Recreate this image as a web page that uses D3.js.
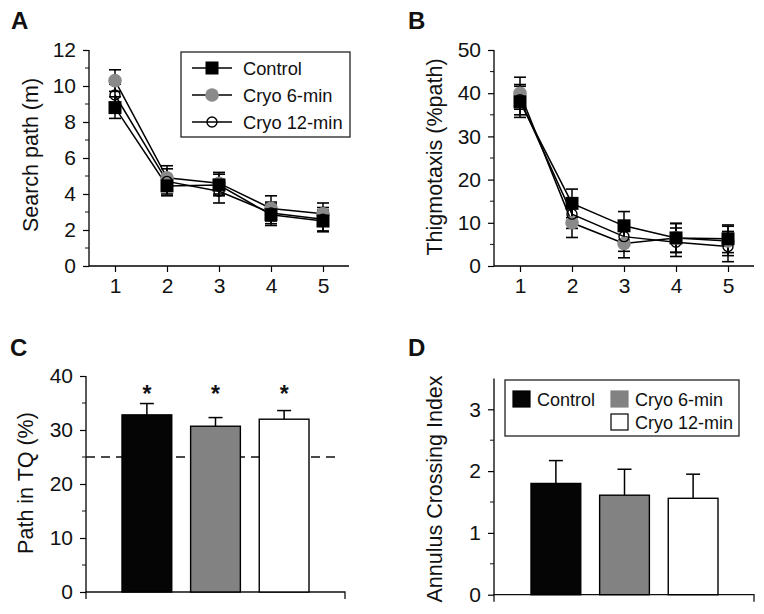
<!DOCTYPE html>
<html><head><meta charset="utf-8">
<script src="https://cdn.jsdelivr.net/npm/d3@7"></script>
<style>body{margin:0;background:#fff}svg{display:block}text{font-family:"Liberation Sans",Arial,Helvetica,sans-serif;fill:#111}</style>
</head><body>
<script>
// ---- Data ----
const days = [1, 2, 3, 4, 5];
const groups = ["Control", "Cryo 6-min", "Cryo 12-min"];
const groupColors = ["#050505", "#828282", "#ffffff"];

const searchControl = [8.8, 4.45, 4.5, 2.85, 2.5];
const searchControlErr = [0.6, 0.55, 0.6, 0.6, 0.6];
const searchCryo6 = [10.3, 4.9, 4.6, 3.2, 2.9];
const searchCryo6Err = [0.6, 0.67, 0.6, 0.7, 0.6];
const searchCryo12 = [9.5, 4.7, 4.15, 2.95, 2.6];
const searchCryo12Err = [0.6, 0.7, 0.65, 0.6, 0.65];

const thigControl = [38, 14.5, 9.3, 6.5, 6.3];
const thigControlErr = [3.6, 3.3, 3.3, 3.3, 3.2];
const thigCryo6 = [40, 10, 5.2, 6.5, 5.8];
const thigCryo6Err = [3.7, 3.4, 3.3, 3.4, 3.4];
const thigCryo12 = [38.5, 12, 6.8, 5.5, 4.5];
const thigCryo12Err = [3.5, 3.3, 3.4, 3.3, 3.5];

const tqValues = [32.8, 30.7, 32.0];
const tqErr = [2.1, 1.6, 1.6];
const tqChance = 25;
const tqStarLevel = 37.5;

const annulusValues = [1.80, 1.61, 1.56];
const annulusErr = [0.37, 0.42, 0.39];

const ticksA = [0, 2, 4, 6, 8, 10, 12];
const ticksB = [0, 10, 20, 30, 40, 50];
const ticksC = [0, 10, 20, 30, 40];
const ticksD = [0, 1, 2, 3];

// ---- Drawing ----
const svg = d3.select("body").append("svg").attr("width", 764).attr("height", 614);
const TICK_FS = 21, TITLE_FS = 21.5, LEG_FS = 18.3;

function panelLetter(t, x, y) {
  svg.append("text").attr("x", x).attr("y", y).text(t)
    .attr("font-size", 24).attr("font-weight", "bold").attr("fill", "#000");
}
function yAxis(g, y, x0, ticks, minorTicks) {
  const ax = g.append("g").attr("transform", `translate(${x0},0)`)
    .call(d3.axisLeft(y).tickValues(ticks).tickSize(6).tickPadding(7).tickFormat(d3.format("d")));
  ax.select(".domain").attr("d", `M0,${y.range()[0]}V${y.range()[1]}`).attr("stroke-width", 1.3);
  ax.selectAll(".tick line").attr("stroke-width", 1.2);
  ax.selectAll("text").attr("font-size", TICK_FS).attr("fill", "#111");
  g.append("g").selectAll("line").data(minorTicks).join("line")
    .attr("x1", x0 - 4).attr("x2", x0).attr("y1", d => y(d)).attr("y2", d => y(d))
    .attr("stroke", "#111").attr("stroke-width", 1);
}
function yTitle(t, x, y) {
  svg.append("text").attr("transform", `translate(${x},${y}) rotate(-90)`)
    .attr("text-anchor", "middle").attr("font-size", TITLE_FS).text(t);
}

function drawMarker(g, k, cx, cy) {
  if (k === 0) {
    g.append("rect").attr("x", cx - 6.5).attr("y", cy - 6.5).attr("width", 13).attr("height", 13).attr("fill", "#000");
  } else if (k === 1) {
    g.append("circle").attr("cx", cx).attr("cy", cy).attr("r", 6.8).attr("fill", "#8a8a8a");
  } else {
    g.append("circle").attr("cx", cx).attr("cy", cy).attr("r", 5).attr("fill", "none").attr("stroke", "#000").attr("stroke-width", 1.4);
  }
}

// Line panels
function linePanel(opts) {
  const g = svg.append("g");
  const x = d3.scaleLinear().domain([0.5, 5.5]).range([opts.x0, opts.x1]);
  const y = d3.scaleLinear().domain(opts.domain).range([opts.y0, opts.y1]);
  const xa = g.append("g").attr("transform", `translate(0,${opts.y0})`)
    .call(d3.axisBottom(x).tickValues(days).tickSize(6).tickPadding(6).tickFormat(d3.format("d")));
  xa.select(".domain").attr("d", `M${opts.x0},0H${opts.x1}`).attr("stroke-width", 1.3);
  xa.selectAll(".tick line").attr("stroke-width", 1.2);
  xa.selectAll("text").attr("font-size", TICK_FS).attr("fill", "#111");
  yAxis(g, y, opts.x0, opts.ticks, opts.minor);

  const series = opts.series;
  const line = d3.line().x((d, i) => x(days[i])).y(d => y(d));
  series.forEach(s => {
    s.vals.forEach((v, i) => {
      const cx = x(days[i]);
      const lo = y(v - s.err[i]), hi = y(v + s.err[i]);
      g.append("line").attr("x1", cx).attr("x2", cx).attr("y1", lo).attr("y2", hi).attr("stroke", "#000").attr("stroke-width", 1.5);
      [lo, hi].forEach(yy => g.append("line").attr("x1", cx - 6).attr("x2", cx + 6).attr("y1", yy).attr("y2", yy).attr("stroke", "#000").attr("stroke-width", 1.6));
    });
  });
  series.forEach(s => {
    g.append("path").datum(s.vals).attr("d", line).attr("fill", "none").attr("stroke", "#000").attr("stroke-width", 1.5);
  });
  [1, 0, 2].forEach(k => {
    series[k].vals.forEach((v, i) => drawMarker(g, k, x(days[i]), y(v)));
  });
}

// Panel A
panelLetter("A", 11, 29);
linePanel({
  x0: 89, x1: 349, y0: 266, y1: 50, domain: [0, 12], ticks: ticksA, minor: [1, 3, 5, 7, 9, 11],
  series: [
    {vals: searchControl, err: searchControlErr},
    {vals: searchCryo6, err: searchCryo6Err},
    {vals: searchCryo12, err: searchCryo12Err}
  ]
});
yTitle("Search path (m)", 38, 155);
const legA = svg.append("g");
legA.append("rect").attr("x", 181).attr("y", 52).attr("width", 169).attr("height", 85)
  .attr("fill", "#fff").attr("stroke", "#222").attr("stroke-width", 1.3);
groups.forEach((name, k) => {
  const yy = 68 + k * 27;
  legA.append("line").attr("x1", 192).attr("x2", 232).attr("y1", yy).attr("y2", yy).attr("stroke", "#000").attr("stroke-width", 1.5);
  drawMarker(legA, k, 212, yy);
  legA.append("text").attr("x", 243).attr("y", yy + 6.5).attr("font-size", LEG_FS).text(name);
});

// Panel B
panelLetter("B", 408, 29);
linePanel({
  x0: 494, x1: 754, y0: 266, y1: 50, domain: [0, 50], ticks: ticksB, minor: [5, 15, 25, 35, 45],
  series: [
    {vals: thigControl, err: thigControlErr},
    {vals: thigCryo6, err: thigCryo6Err},
    {vals: thigCryo12, err: thigCryo12Err}
  ]
});
yTitle("Thigmotaxis (%path)", 442, 157);

// Bar panels
function barPanel(opts) {
  const g = svg.append("g");
  const x = d3.scaleBand().domain(groups).range([opts.bx0, opts.bx1]).paddingInner(0.275).paddingOuter(0);
  const y = d3.scaleLinear().domain(opts.domain).range([opts.y0, opts.y1]);
  g.append("path").attr("d", `M${opts.x0},${opts.y0 + 7}V${opts.y0}H${opts.x1}V${opts.y0 + 7}`)
    .attr("fill", "none").attr("stroke", "#111").attr("stroke-width", 1.3);
  yAxis(g, y, opts.x0, opts.ticks, opts.minor);
  if (opts.chance !== undefined) {
    g.append("line").attr("x1", opts.x0).attr("x2", opts.x1 - 10).attr("y1", y(opts.chance)).attr("y2", y(opts.chance))
      .attr("stroke", "#111").attr("stroke-width", 1.3).attr("stroke-dasharray", "9,6");
  }
  opts.vals.forEach((v, i) => {
    const bx = x(groups[i]), bw = x.bandwidth(), cx = bx + bw / 2;
    const top = y(v + opts.err[i]);
    g.append("line").attr("x1", cx).attr("x2", cx).attr("y1", y(v)).attr("y2", top).attr("stroke", "#000").attr("stroke-width", 1.5);
    g.append("line").attr("x1", cx - 7).attr("x2", cx + 7).attr("y1", top).attr("y2", top).attr("stroke", "#000").attr("stroke-width", 1.5);
    g.append("rect").attr("x", bx).attr("y", y(v)).attr("width", bw).attr("height", y(0) - y(v))
      .attr("fill", groupColors[i]).attr("stroke", "#000").attr("stroke-width", 1.4);
    if (opts.starLevel !== undefined) {
      g.append("text").attr("x", cx).attr("y", y(opts.starLevel) + 12).attr("text-anchor", "middle")
        .attr("font-size", 23).attr("font-weight", "bold").attr("fill", "#222").text("*");
    }
  });
}

// Panel C
panelLetter("C", 10, 356);
barPanel({
  x0: 86, x1: 345, bx0: 122, bx1: 309, y0: 592, y1: 376, domain: [0, 40], ticks: ticksC, minor: [5, 15, 25, 35],
  vals: tqValues, err: tqErr, chance: tqChance, starLevel: tqStarLevel
});
yTitle("Path in TQ (%)", 33, 483);

// Panel D
panelLetter("D", 408, 356);
barPanel({
  x0: 494, x1: 754, bx0: 531, bx1: 718, y0: 594.7, y1: 378.4, domain: [0, 3.5], ticks: ticksD, minor: [0.5, 1.5, 2.5],
  vals: annulusValues, err: annulusErr
});
yTitle("Annulus Crossing Index", 442, 489);
const legD = svg.append("g");
legD.append("rect").attr("x", 505).attr("y", 380).attr("width", 234).attr("height", 56)
  .attr("fill", "#fff").attr("stroke", "#222").attr("stroke-width", 1.3);
const legDPos = [[513, 391, "Control"], [611, 391, "Cryo 6-min"], [611, 414, "Cryo 12-min"]];
legDPos.forEach(([lx, ly, name], k) => {
  legD.append("rect").attr("x", lx).attr("y", ly).attr("width", 17).attr("height", 16)
    .attr("fill", groupColors[k]).attr("stroke", k === 1 ? "#828282" : "#000").attr("stroke-width", 1.2);
  legD.append("text").attr("x", lx + 24).attr("y", ly + 14.5).attr("font-size", 18).text(name);
});
</script>
</body></html>
